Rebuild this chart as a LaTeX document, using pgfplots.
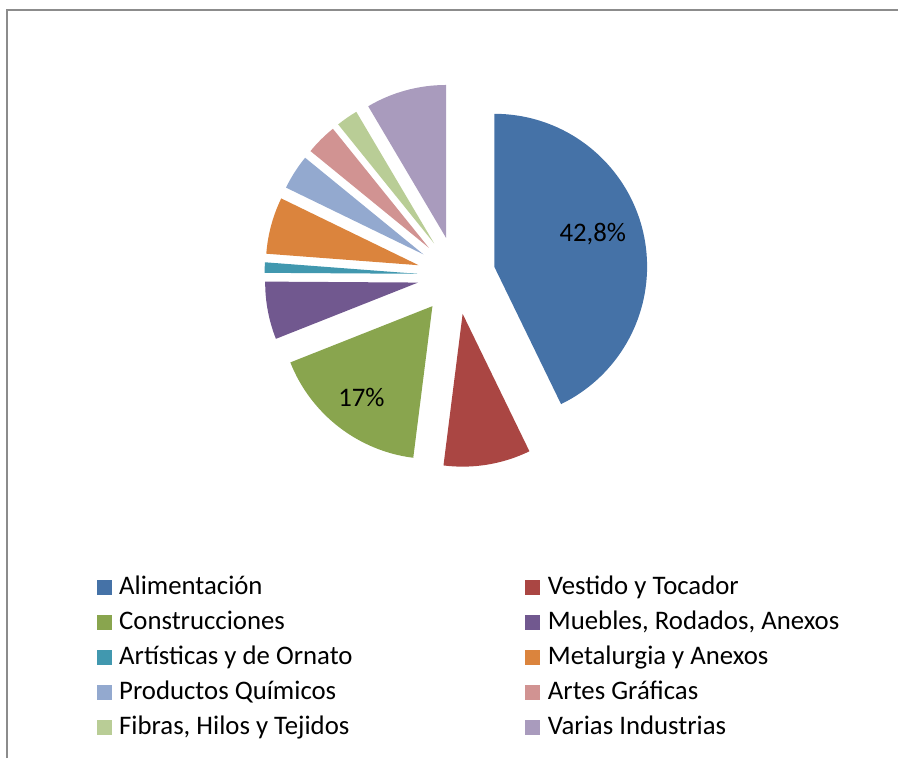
\documentclass[border=0pt]{standalone}
\usepackage{fontspec}
\setmainfont{Carlito}
\usepackage{pgfplots}
\usepackage{pgfplotstable}
\pgfplotsset{compat=1.18}

\definecolor{slice0}{HTML}{4572A7}
\definecolor{slice1}{HTML}{AA4643}
\definecolor{slice2}{HTML}{89A54E}
\definecolor{slice3}{HTML}{71588F}
\definecolor{slice4}{HTML}{4198AF}
\definecolor{slice5}{HTML}{DB843D}
\definecolor{slice6}{HTML}{93A9CF}
\definecolor{slice7}{HTML}{D19392}
\definecolor{slice8}{HTML}{B9CD96}
\definecolor{slice9}{HTML}{A99BBD}
\definecolor{frame}{HTML}{8C8C8C}

\newcommand\chartfont{\fontsize{26.8pt}{32pt}\selectfont}

% share in percent; labr = label distance from slice tip (0 = no label), labshift = angle tweak
\pgfplotstableread{
val  labr labshift
42.8 104  5.5
9.2  0    0
17.0 116  0
6.1  0    0
1.1  0    0
6.0  0    0
3.7  0    0
3.3  0    0
2.3  0    0
8.5  0    0
}\piedata

\def\pcx{456.8}
\def\pcy{483.3}
\def\prad{153}
\def\pexp{39}

\begin{document}
\begin{tikzpicture}
\begin{axis}[
  width=899pt,height=759pt,scale only axis,
  xmin=0,xmax=899,ymin=0,ymax=759,
  hide axis,clip=false,
  legend columns=2,
  legend image code/.code={\fill[#1,draw=none] (0pt,-7.5pt) rectangle (15pt,7.5pt);},
  legend style={
    at={(axis cs:96.7,183.5)},anchor=north west,
    draw=none,fill=none,inner sep=0pt,outer sep=0pt,
    font=\chartfont,row sep=10pt,column sep=7.6pt,
    nodes={inner sep=0pt,text height=20pt,text depth=5pt},
    /tikz/every even column/.append style={column sep=173pt}},
  legend cell align=left
]
% keep the page exactly the size of the chart area
\addplot[draw=none,forget plot] coordinates {(0,0) (899,759)};
\addplot[draw=frame,line width=2pt,forget plot] coordinates {(7,0) (7,749) (899,749)};

\pgfplotstablegetrowsof{\piedata}
\pgfmathtruncatemacro\nrows{\pgfplotsretval-1}
\def\cum{0}
\pgfplotsforeachungrouped \i in {0,...,\nrows}{%
  \pgfplotstablegetelem{\i}{val}\of\piedata \let\v\pgfplotsretval
  \pgfplotstablegetelem{\i}{labr}\of\piedata \let\lr\pgfplotsretval
  \pgfplotstablegetelem{\i}{labshift}\of\piedata \let\ls\pgfplotsretval
  \pgfmathsetmacro\aa{90-3.6*\cum}%
  \pgfmathsetmacro\ab{90-3.6*(\cum+\v)}%
  \pgfmathsetmacro\am{(\aa+\ab)/2}%
  \pgfmathsetmacro\cx{\pcx+\pexp*cos(\am)}%
  \pgfmathsetmacro\cy{\pcy+\pexp*sin(\am)}%
  \edef\cmd{\noexpand\fill[slice\i] (axis cs:\cx,\cy) -- ++(\aa:\prad pt)
    arc[start angle=\aa,end angle=\ab,radius=\prad pt] -- cycle;}%
  \cmd
  \pgfmathparse{\lr>0}%
  \ifnum\pgfmathresult>0
    \pgfmathsetmacro\lx{\cx+\lr*cos(\am+\ls)}%
    \pgfmathsetmacro\ly{\cy+\lr*sin(\am+\ls)}%
    \edef\cmd{\noexpand\node[font=\noexpand\chartfont,inner sep=0pt] at (axis cs:\lx,\ly)
      {\noexpand\pgfmathprintnumber[use comma,assume math mode=true]{\v}\noexpand\%};}%
    \cmd
  \fi
  \pgfmathsetmacro\cum{\cum+\v}%
}

\addlegendimage{fill=slice0}\addlegendentry{Alimentación}
\addlegendimage{fill=slice1}\addlegendentry{Vestido y Tocador}
\addlegendimage{fill=slice2}\addlegendentry{Construcciones}
\addlegendimage{fill=slice3}\addlegendentry{Muebles, Rodados, Anexos}
\addlegendimage{fill=slice4}\addlegendentry{Artísticas y de Ornato}
\addlegendimage{fill=slice5}\addlegendentry{Metalurgia y Anexos}
\addlegendimage{fill=slice6}\addlegendentry{Productos Químicos}
\addlegendimage{fill=slice7}\addlegendentry{Artes Gráficas}
\addlegendimage{fill=slice8}\addlegendentry{Fibras, Hilos y Tejidos}
\addlegendimage{fill=slice9}\addlegendentry{Varias Industrias}
\end{axis}
\end{tikzpicture}
\end{document}
